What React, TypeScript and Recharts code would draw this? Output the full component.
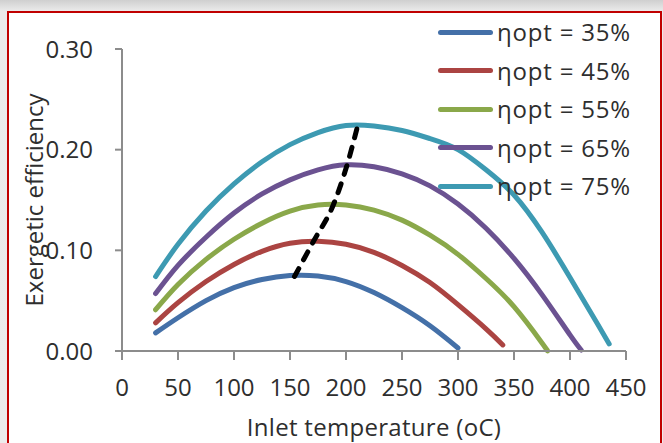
import React from 'react';
import { LineChart, Line, XAxis, YAxis, Legend, Label } from 'recharts';

// Inlet temperature (°C) and exergetic efficiency for each optical efficiency
const T35 = [30, 50, 75, 100, 125, 150, 175, 200, 225, 250, 275, 300];
const E35 = [0.018, 0.033, 0.05, 0.063, 0.071, 0.075, 0.0745, 0.069, 0.058, 0.043, 0.025, 0.003];

const T45 = [30, 50, 75, 100, 125, 150, 175, 200, 225, 250, 275, 300, 325, 340];
const E45 = [0.028, 0.048, 0.069, 0.086, 0.099, 0.107, 0.109, 0.106, 0.098, 0.085, 0.068, 0.046, 0.022, 0.006];

const T55 = [30, 50, 75, 100, 125, 150, 175, 200, 225, 250, 275, 300, 325, 350, 375, 380];
const E55 = [0.041, 0.066, 0.091, 0.111, 0.127, 0.139, 0.145, 0.145, 0.14, 0.13, 0.115, 0.096, 0.072, 0.044, 0.008, 0.0];

const T65 = [30, 50, 75, 100, 125, 150, 175, 200, 225, 250, 275, 300, 325, 350, 375, 400, 410];
const E65 = [0.057, 0.085, 0.113, 0.137, 0.156, 0.17, 0.18, 0.185, 0.183, 0.176, 0.164, 0.146, 0.122, 0.092, 0.056, 0.016, 0.001];

const T75 = [30, 50, 75, 100, 125, 150, 175, 200, 225, 250, 275, 300, 325, 350, 375, 400, 425, 435];
const E75 = [0.074, 0.106, 0.139, 0.166, 0.188, 0.205, 0.217, 0.224, 0.2235, 0.219, 0.211, 0.2, 0.18, 0.155, 0.118, 0.073, 0.026, 0.007];

// Locus of maximum efficiency (dashed)
const PEAK_T = [154, 171, 189, 201, 210];
const PEAK_E = [0.074, 0.109, 0.146, 0.185, 0.222];

const SERIES_NAMES = ['ηopt = 35%', 'ηopt = 45%', 'ηopt = 55%', 'ηopt = 65%', 'ηopt = 75%'];
const COLORS = ['#4470a8', '#ab4442', '#8aa84a', '#6b5291', '#3d9ab2'];

const X_TICKS = [0, 50, 100, 150, 200, 250, 300, 350, 400, 450];
const Y_TICKS = [0, 0.1, 0.2, 0.3];

const toPoints = (xs: number[], ys: number[]) => xs.map((x, i) => ({ x, y: ys[i] }));

const SERIES = [
  toPoints(T35, E35),
  toPoints(T45, E45),
  toPoints(T55, E55),
  toPoints(T65, E65),
  toPoints(T75, E75),
];
const PEAKS = toPoints(PEAK_T, PEAK_E);

const FONT = '"Open Sans", "Noto Sans", sans-serif';
const TEXT = '#2e2e2e';
const AXIS = '#8c8c8c';

function LegendContent(props: any) {
  const payload = (props.payload || []).filter((p: any) => p.type !== 'none');
  return (
    <div style={{ display: 'flex', flexDirection: 'column' }}>
      {payload.map((p: any) => (
        <div key={p.value} style={{ display: 'flex', alignItems: 'center', height: 38.5 }}>
          <div style={{ width: 55, height: 5, borderRadius: 3, background: p.color }} />
          <span
            style={{
              marginLeft: 4,
              fontSize: 24,
              lineHeight: '24px',
              letterSpacing: 0.8,
              color: TEXT,
              fontFamily: FONT,
              whiteSpace: 'nowrap',
            }}
          >
            {p.value}
          </span>
        </div>
      ))}
    </div>
  );
}

export default function App() {
  return (
    <div
      style={{
        position: 'absolute',
        left: 0,
        top: 0,
        width: 663,
        height: 443,
        overflow: 'hidden',
        background: 'linear-gradient(#cfcfcf 0px, #ebebeb 11px, #ececec 100%)',
      }}
    >
      <div
        style={{
          position: 'absolute',
          left: 7,
          top: 11,
          width: 651,
          height: 460,
          border: '2px solid #c00000',
          background: '#ffffff',
        }}
      />
      <div style={{ position: 'absolute', left: 0, top: 0 }}>
        <LineChart width={663} height={443} margin={{ top: 49, right: 37, left: 0, bottom: 0 }}>
          <XAxis
            type="number"
            dataKey="x"
            domain={[0, 450]}
            ticks={X_TICKS}
            interval={0}
            height={92}
            tickSize={9}
            tickMargin={19}
            axisLine={{ stroke: AXIS, strokeWidth: 2 }}
            tickLine={{ stroke: AXIS, strokeWidth: 2 }}
            tick={{ fontSize: 24, fill: TEXT, fontFamily: FONT }}
          >
            <Label
              content={(p: any) => {
                const vb = p.viewBox;
                return (
                  <text
                    x={vb.x + vb.width / 2}
                    y={vb.y + vb.height - 17}
                    textAnchor="middle"
                    dominantBaseline="central"
                    fontSize={24}
                    letterSpacing={0.3}
                    fill={TEXT}
                    fontFamily={FONT}
                  >
                    Inlet temperature (oC)
                  </text>
                );
              }}
            />
          </XAxis>
          <YAxis
            type="number"
            domain={[0, 0.3]}
            ticks={Y_TICKS}
            interval={0}
            width={122}
            tickSize={7}
            tickMargin={22}
            tickFormatter={(v: number) => v.toFixed(2)}
            axisLine={{ stroke: AXIS, strokeWidth: 2 }}
            tickLine={{ stroke: AXIS, strokeWidth: 2 }}
            tick={{ fontSize: 24, fill: TEXT, fontFamily: FONT }}
          >
            <Label
              content={(p: any) => {
                const vb = p.viewBox;
                const cx = vb.x + 33;
                const cy = vb.y + vb.height / 2;
                return (
                  <text
                    x={cx}
                    y={cy}
                    transform={`rotate(-90, ${cx}, ${cy})`}
                    textAnchor="middle"
                    dominantBaseline="central"
                    fontSize={24}
                    fill={TEXT}
                    fontFamily={FONT}
                  >
                    Exergetic efficiency
                  </text>
                );
              }}
            />
          </YAxis>
          {SERIES.map((data, i) => (
            <Line
              key={SERIES_NAMES[i]}
              data={data}
              dataKey="y"
              name={SERIES_NAMES[i]}
              type="natural"
              stroke={COLORS[i]}
              strokeWidth={5}
              strokeLinecap="round"
              dot={false}
              activeDot={false}
              isAnimationActive={false}
            />
          ))}
          <Line
            data={PEAKS}
            dataKey="y"
            name="peak"
            legendType="none"
            type="monotone"
            stroke="#000000"
            strokeWidth={5}
            strokeDasharray="9 10"
            strokeLinecap="round"
            dot={false}
            activeDot={false}
            isAnimationActive={false}
          />
          <Legend
            content={LegendContent}
            layout="vertical"
            verticalAlign="middle"
            align="center"
            wrapperStyle={{ top: 13, left: 438, width: 225 }}
          />
        </LineChart>
      </div>
    </div>
  );
}
